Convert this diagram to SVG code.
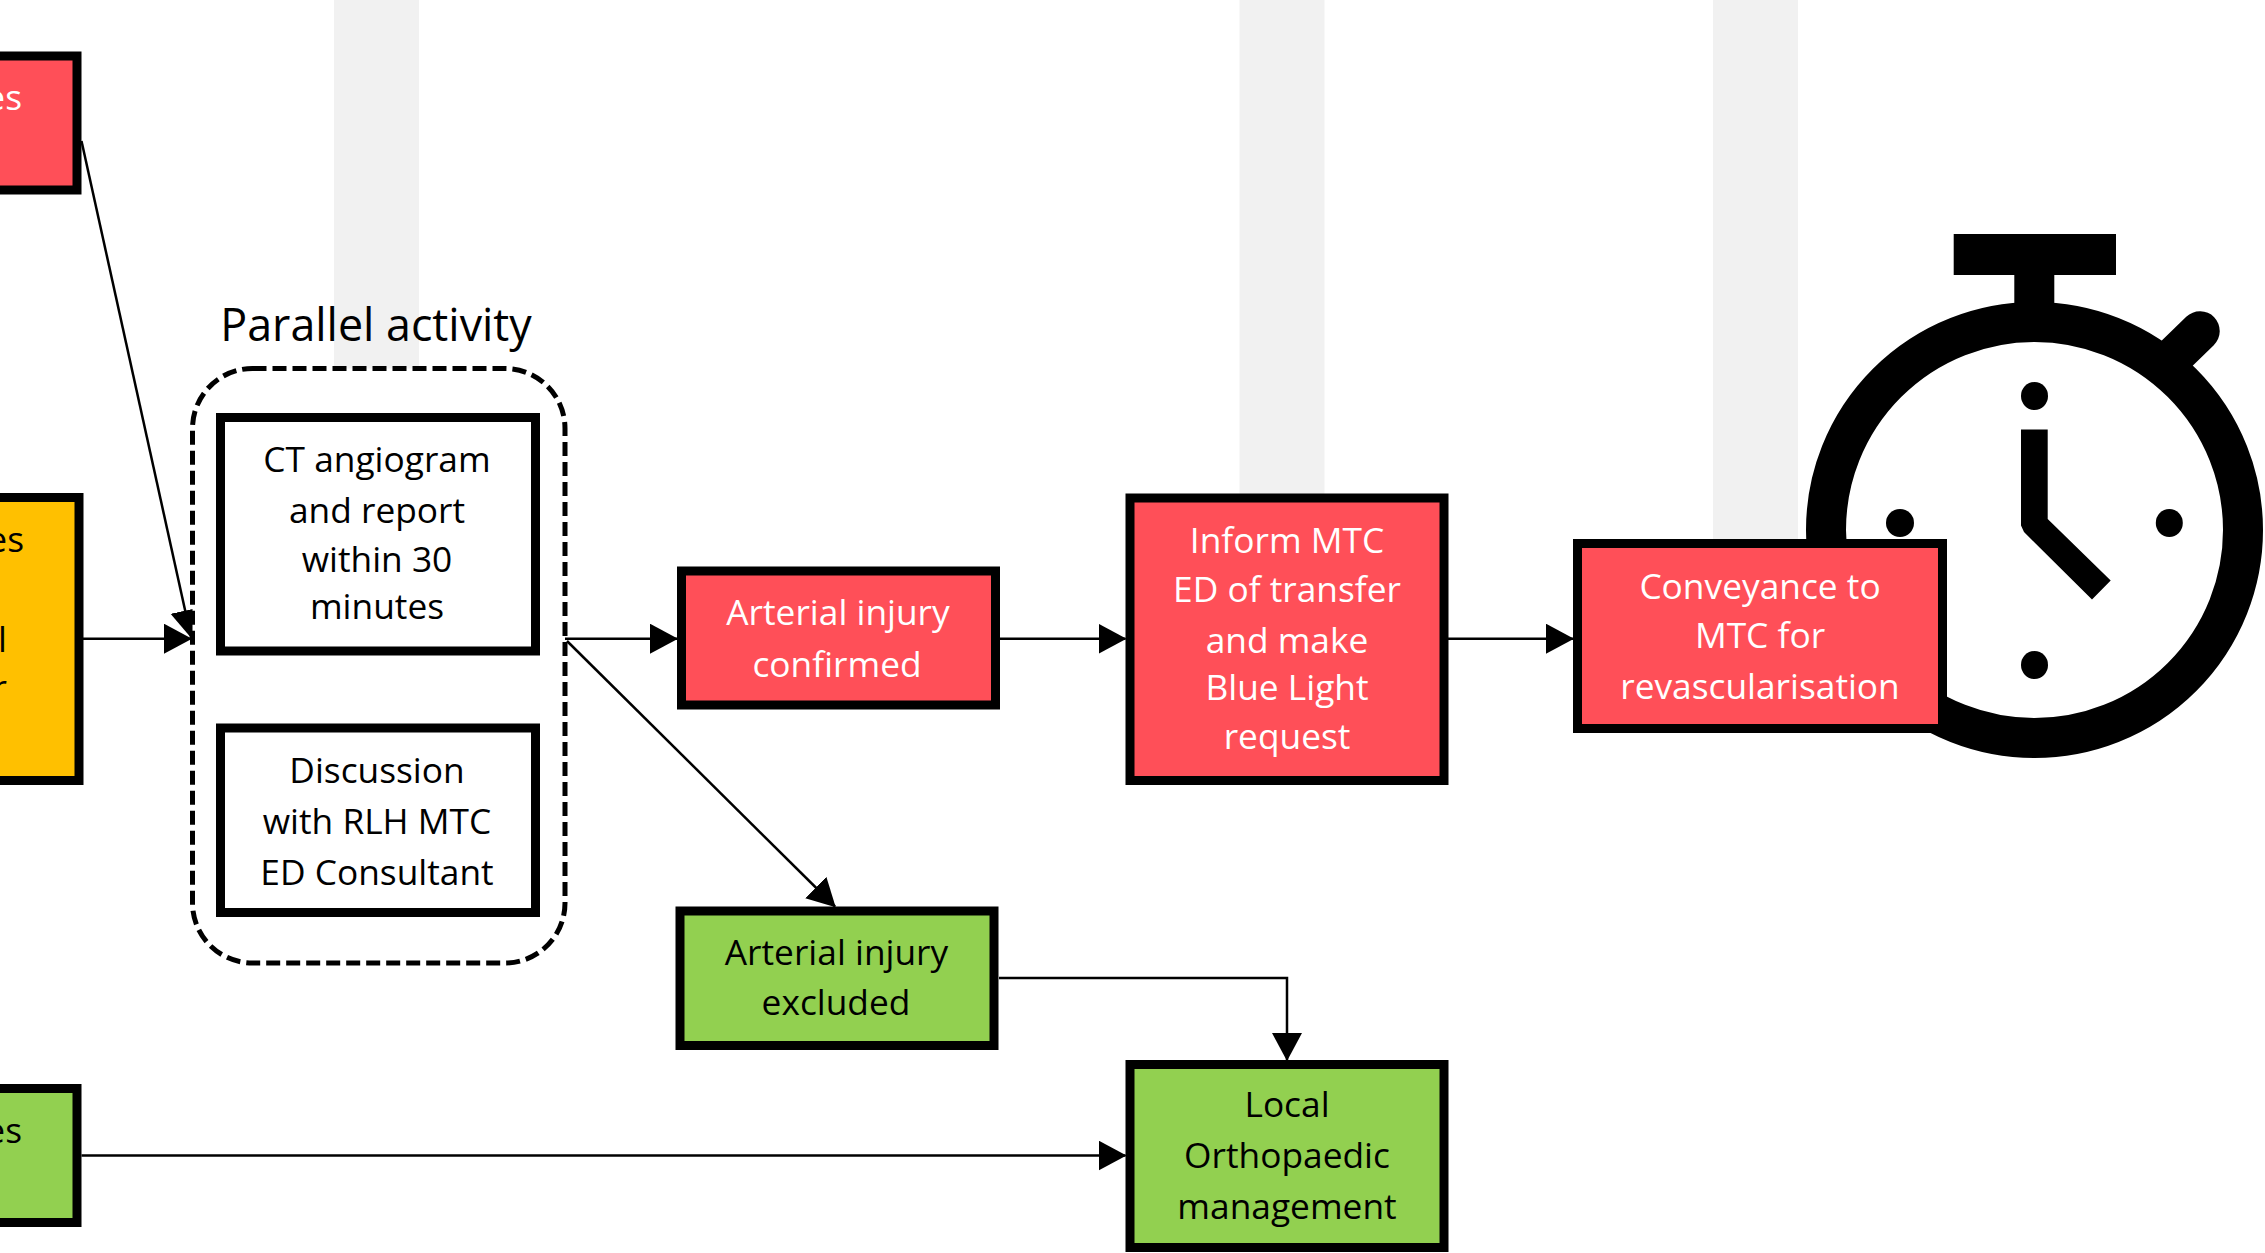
<svg xmlns="http://www.w3.org/2000/svg" width="2265" height="1253" viewBox="0 0 2265 1253">
<style>
text{font-family:"Open Sans","Noto Sans","Liberation Sans",sans-serif;font-size:35.3px;text-anchor:middle;fill:#000}
.w{fill:#fff}
.e{text-anchor:end}
.box{stroke:#000;stroke-width:9}
.r{fill:#FF4F58}.g{fill:#92D050}.o{fill:#FFC000}.n{fill:#fff}
.bar{fill:#F1F1F1}
.c{fill:none;stroke:#000;stroke-width:2.5;marker-end:url(#a)}
</style>
<defs><marker id="a" markerUnits="userSpaceOnUse" markerWidth="30" markerHeight="32" refX="27" refY="15" orient="auto"><path d="M0 0L28 15L0 30Z" fill="#000"/></marker></defs>
<rect width="2265" height="1253" fill="#fff"/>
<g id="bands">
<rect class="bar" x="334" y="0" width="85" height="369"/>
<rect class="bar" x="1239.500" y="0" width="85" height="495"/>
<rect class="bar" x="1713" y="0" width="85" height="540"/>
</g>
<g id="stopwatch">
<rect x="1953.700" y="234" width="162.300" height="41"/>
<rect x="2014.300" y="270" width="40" height="45"/>
<ellipse cx="2034.500" cy="530" rx="208.500" ry="208" fill="none" stroke="#000" stroke-width="40"/>
<path d="M2165 365L2200 331" stroke="#000" stroke-width="39.500" stroke-linecap="round" fill="none"/>
<ellipse cx="2034.500" cy="396" rx="13.500" ry="14"/>
<ellipse cx="1900" cy="523" rx="14" ry="14"/>
<ellipse cx="2169.300" cy="523" rx="13.500" ry="14"/>
<ellipse cx="2034.500" cy="665" rx="13.500" ry="14"/>
<path d="M2021 429.500H2047.700V519L2110.700 580.500L2092 599.500L2024 532L2021 525.500Z"/>
</g>
<g id="connectors">
<path class="c" d="M81.500 141L191 637"/>
<path class="c" d="M83 638.700H191"/>
<path class="c" d="M565 638.700H677"/>
<path class="c" d="M567 641L835 906.500"/>
<path class="c" d="M1000 638.700H1125.500"/>
<path class="c" d="M1448 638.700H1573"/>
<path class="c" d="M999 978H1287V1060"/>
<path class="c" d="M81.500 1155.500H1125.500"/>
</g>
<g id="left-red"><rect class="box r" x="-20" y="56" width="97" height="134"/><text class="w e" x="22" y="110">es</text></g>
<g id="left-orange"><rect class="box o" x="-20" y="497.500" width="99" height="283"/><text class="e" x="24" y="552">es</text><text class="e" x="7" y="652">l</text><text class="e" x="7" y="700">r</text></g>
<g id="left-green"><rect class="box g" x="-20" y="1088.500" width="97" height="134"/><text class="e" x="22" y="1143">es</text></g>
<g id="parallel">
<text x="376" y="341" style="font-size:44.800px">Parallel activity</text>
<rect x="192.500" y="368.500" width="372.500" height="594.500" rx="60" ry="60" fill="#fff" stroke="#000" stroke-width="5" stroke-dasharray="14 6"/>
</g>
<g id="ct"><rect class="box n" x="220.500" y="417.500" width="315" height="233.500"/>
<text x="377" y="472">CT angiogram</text><text x="377" y="522.500">and report</text><text x="377" y="572">within 30</text><text x="377" y="619">minutes</text></g>
<g id="discussion"><rect class="box n" x="220.500" y="728" width="315" height="184.500"/>
<text x="377" y="783">Discussion</text><text x="377" y="834">with RLH MTC</text><text x="377" y="885">ED Consultant</text></g>
<g id="confirmed"><rect class="box r" x="681.500" y="571" width="314" height="134"/>
<text class="w" x="838" y="624.500">Arterial injury</text><text class="w" x="837" y="676.500">confirmed</text></g>
<g id="excluded"><rect class="box g" x="680" y="911" width="314" height="134.500"/>
<text x="836.500" y="965">Arterial injury</text><text x="836" y="1014.500">excluded</text></g>
<g id="inform"><rect class="box r" x="1130" y="498" width="314" height="282.500"/>
<text class="w" x="1287" y="552.500">Inform MTC</text><text class="w" x="1287" y="601.500">ED of transfer</text><text class="w" x="1287" y="652.500">and make</text><text class="w" x="1287" y="699.500">Blue Light</text><text class="w" x="1287" y="748.500">request</text></g>
<g id="local"><rect class="box g" x="1130" y="1064.500" width="314" height="183"/>
<text x="1287" y="1116.500">Local</text><text x="1287" y="1167.500">Orthopaedic</text><text x="1287" y="1218.500">management</text></g>
<g id="conveyance"><rect class="box r" x="1577.500" y="543.500" width="365" height="185"/>
<text class="w" x="1760" y="598.500">Conveyance to</text><text class="w" x="1760" y="647.500">MTC for</text><text class="w" x="1760" y="699">revascularisation</text></g>
</svg>
